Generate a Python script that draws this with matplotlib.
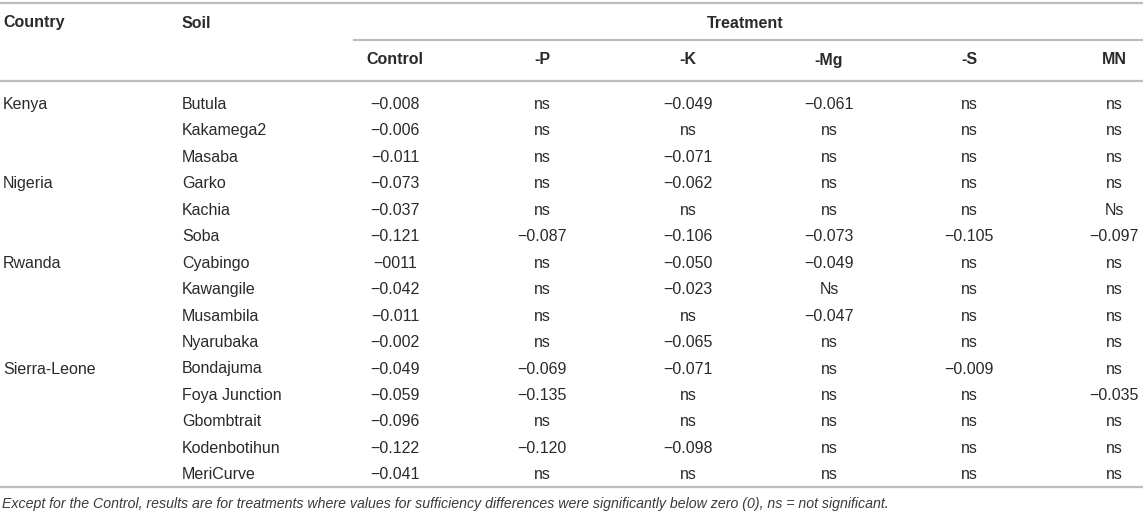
import matplotlib
matplotlib.use("Agg")
import matplotlib.pyplot as plt

countries = ["Kenya", "", "", "Nigeria", "", "", "Rwanda", "", "", "",
             "Sierra-Leone", "", "", "", ""]
soils = ["Butula", "Kakamega2", "Masaba", "Garko", "Kachia", "Soba",
         "Cyabingo", "Kawangile", "Musambila", "Nyarubaka",
         "Bondajuma", "Foya Junction", "Gbombtrait", "Kodenbotihun", "MeriCurve"]
treatments = ["Control", "-P", "-K", "-Mg", "-S", "MN"]
control = ["−0.008", "−0.006", "−0.011", "−0.073", "−0.037", "−0.121", "−0011",
           "−0.042", "−0.011", "−0.002", "−0.049", "−0.059", "−0.096", "−0.122", "−0.041"]
minus_p = ["ns", "ns", "ns", "ns", "ns", "−0.087", "ns", "ns", "ns", "ns",
           "−0.069", "−0.135", "ns", "−0.120", "ns"]
minus_k = ["−0.049", "ns", "−0.071", "−0.062", "ns", "−0.106", "−0.050", "−0.023",
           "ns", "−0.065", "−0.071", "ns", "ns", "−0.098", "ns"]
minus_mg = ["−0.061", "ns", "ns", "ns", "ns", "−0.073", "−0.049", "Ns", "−0.047",
            "ns", "ns", "ns", "ns", "ns", "ns"]
minus_s = ["ns", "ns", "ns", "ns", "ns", "−0.105", "ns", "ns", "ns", "ns",
           "−0.009", "ns", "ns", "ns", "ns"]
mn = ["ns", "ns", "ns", "ns", "Ns", "−0.097", "ns", "ns", "ns", "ns",
      "ns", "−0.035", "ns", "ns", "ns"]
caption = ("Except for the Control, results are for treatments where values for sufficiency "
           "differences were significantly below zero (0), ns = not significant.")

W, H = 1143, 522
fig = plt.figure(figsize=(W / 100, H / 100), dpi=100)
ax = fig.add_axes([0, 0, 1, 1])
ax.set_xlim(0, W)
ax.set_ylim(H, 0)
ax.axis("off")

font = ["Liberation Sans", "DejaVu Sans"]
fs = 11.5
txt = "#2a2a2a"
line_c = "#bdbdbd"

# rules
ax.plot([0, W], [3, 3], color=line_c, lw=1.6)
ax.plot([354, W], [40, 40], color=line_c, lw=1.6)
ax.plot([0, W], [81, 81], color=line_c, lw=1.6)
ax.plot([0, W], [487, 487], color=line_c, lw=1.6)

# headers
ax.text(3, 23, "Country", ha="left", va="center", fontsize=fs, fontweight="bold", family=font, color=txt)
ax.text(182, 23, "Soil", ha="left", va="center", fontsize=fs, fontweight="bold", family=font, color=txt)
ax.text(745, 23, "Treatment", ha="center", va="center", fontsize=fs, fontweight="bold", family=font, color=txt)

col_x = [395, 542, 688, 829, 969, 1114]
for x, t in zip(col_x, treatments):
    ax.text(x, 60, t, ha="center", va="center", fontsize=fs, fontweight="bold", family=font, color=txt)

cols = [control, minus_p, minus_k, minus_mg, minus_s, mn]
row_y0, row_dy = 104.5, 26.45
for i in range(len(soils)):
    y = row_y0 + i * row_dy
    ax.text(3, y, countries[i], ha="left", va="center", fontsize=fs, family=font, color=txt)
    ax.text(182, y, soils[i], ha="left", va="center", fontsize=fs, family=font, color=txt)
    for x, col in zip(col_x, cols):
        ax.text(x, y, col[i], ha="center", va="center", fontsize=fs, family=font, color=txt)

ax.text(2, 504, caption, ha="left", va="center", fontsize=10.15, style="italic", family=font, color="#3a3a3a")

fig.savefig("out.png", dpi=100)
